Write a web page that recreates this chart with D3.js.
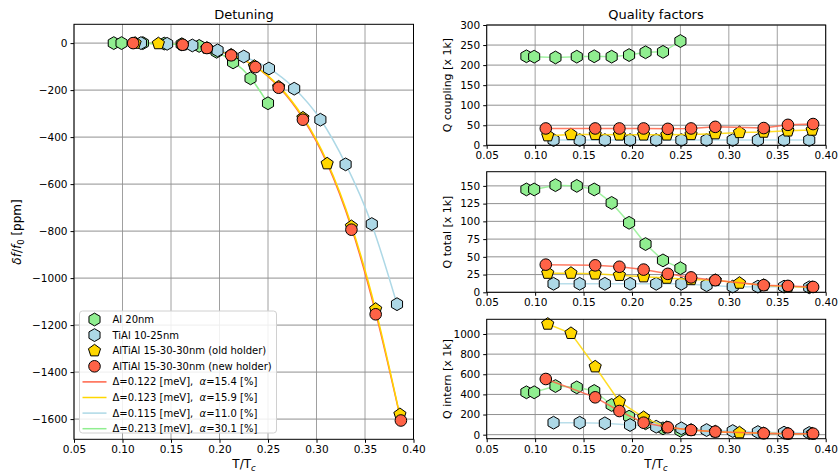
<!DOCTYPE html>
<html>
<head>
<meta charset="utf-8">
<script src="https://cdn.jsdelivr.net/npm/d3@7"></script>
<style>
  body { margin: 0; background: #fff; }
  text { font-family: "DejaVu Sans", sans-serif; fill: #000; }
</style>
</head>
<body>
<div id="chart"></div>
<script>
// temperatures (T/Tc) of each sample
var tAl   = [0.091, 0.099, 0.121, 0.143, 0.161, 0.179, 0.197, 0.214, 0.232, 0.250];
var tTiAl = [0.119, 0.146, 0.172, 0.198, 0.225, 0.251, 0.277, 0.304, 0.330, 0.357, 0.383];
var tOld  = [0.113, 0.137, 0.162, 0.187, 0.212, 0.236, 0.261, 0.286, 0.311, 0.336, 0.361, 0.386];
var tNew  = [0.111, 0.162, 0.187, 0.212, 0.237, 0.261, 0.286, 0.336, 0.361, 0.387];

// detuning [ppm]
var dfAl   = [0, 0, 0, -2, -5, -12, -37, -82, -150, -256];
var dfTiAl = [0, -3, -10, -31, -57, -108, -194, -326, -516, -770, -1111];
var dfOld  = [0, -2, -7, -21, -50, -98, -186, -318, -513, -780, -1132, -1580];
var dfNew  = [0, -7, -21, -52, -102, -190, -326, -794, -1154, -1606];

// fit curves
var fitNewT   = [0.111, 0.137, 0.162, 0.187, 0.212, 0.237, 0.261, 0.286, 0.311, 0.336, 0.361, 0.387];
var fitNew    = [0, -2, -6, -20, -50, -100, -186, -320, -512, -785, -1148, -1606];
var fitOldT   = [0.113, 0.137, 0.162, 0.187, 0.212, 0.236, 0.261, 0.286, 0.311, 0.336, 0.361, 0.386];
var fitOld    = [0, -2, -6, -19, -48, -97, -182, -314, -505, -775, -1135, -1585];
var fitTiAlT  = [0.119, 0.146, 0.172, 0.198, 0.225, 0.251, 0.277, 0.304, 0.330, 0.357, 0.383];
var fitTiAl   = [0, -3, -11, -29, -58, -108, -192, -324, -514, -772, -1111];
var fitAlT    = [0.091, 0.121, 0.143, 0.161, 0.179, 0.197, 0.214, 0.232, 0.250];
var fitAl     = [0, -1, -3, -8, -19, -39, -78, -148, -258];

// quality factors [x 1k]
var qcAl   = [222, 221, 219, 221, 222, 221, 225, 232, 233, 260];
var qcTiAl = [13, 13, 13, 13, 13, 13, 13, 13, 13, 13, 13];
var qcOld  = [24, 27, 27, 26, 26, 26, 27, 29, 32, 33, 36, 38];
var qcNew  = [42, 42, 42, 42, 41, 42, 46, 43, 51, 53];

var qtAl   = [145, 145, 151, 150, 145, 126, 98, 68, 45, 34];
var qtTiAl = [12, 12, 12, 12, 12, 12, 10, 8, 8, 8, 7];
var qtOld  = [27, 27, 26, 24, 22, 20, 18, 17, 13, 10, 8, 7];
var qtNew  = [39, 38, 36, 32, 26, 21, 17, 10, 9, 7.5];

var qiAl   = [421, 421, 483, 470, 434, 295, 179, 113, 63, 40];
var qiTiAl = [119, 119, 113, 96, 79, 63, 46, 36, 26, 20, 17];
var qiOld  = [1099, 1007, 675, 328, 172, 73, 46, 30, 20, 13, 10, 10];
var qiNew  = [553, 371, 235, 119, 73, 46, 30, 13, 10, 10];

var sampleNames = ["Al 20nm", "TiAl 10-25nm", "AlTiAl 15-30-30nm (old holder)", "AlTiAl 15-30-30nm (new holder)"];
var fitNames = ["\u0394=0.122 [meV],  ", "\u0394=0.123 [meV],  ", "\u0394=0.115 [meV],  ", "\u0394=0.213 [meV],  "];
var fitAlpha = ["15.4 [%]", "15.9 [%]", "11.0 [%]", "30.1 [%]"];
var xTicks = [0.05, 0.10, 0.15, 0.20, 0.25, 0.30, 0.35, 0.40];

var cGreen = "#90ee90", cBlue = "#add8e6", cGold = "#ffd700", cRed = "#ff6347";
var R = 5.8;

function poly(n, r) {
  var pts = d3.range(n).map(function(i) {
    var a = i * 2 * Math.PI / n;
    return [r * Math.sin(a), -r * Math.cos(a)];
  });
  return "M" + pts.join("L") + "Z";
}
var shapes = {
  hex: poly(6, R + 0.6),
  pent: poly(5, R + 0.6),
  circ: d3.symbol().type(d3.symbolCircle).size(Math.PI * R * R)()
};

var svg = d3.select("#chart").append("svg")
    .attr("width", 839)
    .attr("height", 472);

function makePanel(box, yDomain, yTicks) {
  var x = d3.scaleLinear().domain([0.05, 0.40]).range([box.l, box.r]);
  var y = d3.scaleLinear().domain(yDomain).range([box.b, box.t]);
  var g = svg.append("g");

  g.append("g").selectAll("line").data(xTicks).enter().append("line")
      .attr("x1", function(d) { return x(d); }).attr("x2", function(d) { return x(d); })
      .attr("y1", box.t).attr("y2", box.b)
      .attr("stroke", "#a0a0a0").attr("stroke-width", 1);
  g.append("g").selectAll("line").data(yTicks).enter().append("line")
      .attr("x1", box.l).attr("x2", box.r)
      .attr("y1", function(d) { return y(d); }).attr("y2", function(d) { return y(d); })
      .attr("stroke", "#909090").attr("stroke-width", 1);

  var xa = g.append("g")
      .attr("transform", "translate(0," + box.b + ")")
      .call(d3.axisBottom(x).tickValues(xTicks).tickFormat(d3.format(".2f")).tickSize(3.5).tickPadding(3));
  var ya = g.append("g")
      .attr("transform", "translate(" + box.l + ",0)")
      .call(d3.axisLeft(y).tickValues(yTicks).tickFormat(d3.format("d")).tickSize(3.5).tickPadding(3));
  [xa, ya].forEach(function(a) {
    a.select(".domain").remove();
    a.selectAll("text").style("font-size", "10.5px").attr("fill", "#000");
    a.selectAll("line").attr("stroke", "#000");
  });

  var data = g.append("g");
  g.append("rect")
      .attr("x", box.l).attr("y", box.t)
      .attr("width", box.r - box.l).attr("height", box.b - box.t)
      .attr("fill", "none").attr("stroke", "#000").attr("stroke-width", 1);
  return { x: x, y: y, g: data };
}

function drawMarkers(p, ts, vs, shape, color) {
  p.g.append("g").selectAll("path").data(ts).enter().append("path")
      .attr("d", shapes[shape])
      .attr("transform", function(d, i) { return "translate(" + p.x(d) + "," + p.y(vs[i]) + ")"; })
      .attr("fill", color).attr("stroke", "#000").attr("stroke-width", 1);
}

function drawLine(p, ts, vs, color, curve, opacity) {
  var line = d3.line()
      .x(function(d) { return p.x(d[0]); })
      .y(function(d) { return p.y(d[1]); })
      .curve(curve);
  p.g.append("path")
      .datum(d3.zip(ts, vs))
      .attr("d", line)
      .attr("fill", "none").attr("stroke", color)
      .attr("stroke-width", 1.5).attr("stroke-opacity", opacity);
}

// ---- left: detuning
var left = makePanel({ l: 74, r: 413.5, t: 24.3, b: 439.3 }, [-1686, 80], d3.range(-1600, 1, 200));
drawLine(left, fitNewT, fitNew, cRed, d3.curveMonotoneX, 1);
drawLine(left, fitOldT, fitOld, cGold, d3.curveMonotoneX, 1);
drawLine(left, fitTiAlT, fitTiAl, cBlue, d3.curveMonotoneX, 1);
drawLine(left, fitAlT, fitAl, cGreen, d3.curveMonotoneX, 1);
drawMarkers(left, tAl, dfAl, "hex", cGreen);
drawMarkers(left, tTiAl, dfTiAl, "hex", cBlue);
drawMarkers(left, tOld, dfOld, "pent", cGold);
drawMarkers(left, tNew, dfNew, "circ", cRed);

// ---- right: quality factors
var rBox = { l: 486.7, r: 825.7 };
var qPanels = [
  { t: 25, b: 145.3, dom: [0, 300], ticks: d3.range(0, 301, 50), vals: [qcAl, qcTiAl, qcOld, qcNew], label: "Q coupling [x 1k]" },
  { t: 171.7, b: 292.3, dom: [0, 170], ticks: d3.range(0, 151, 25), vals: [qtAl, qtTiAl, qtOld, qtNew], label: "Q total [x 1k]" },
  { t: 319.3, b: 438.7, dom: [-40, 1146], ticks: d3.range(0, 1001, 200), vals: [qiAl, qiTiAl, qiOld, qiNew], label: "Q intern [x 1k]" }
];
var sampleT = [tAl, tTiAl, tOld, tNew];
var sampleC = [cGreen, cBlue, cGold, cRed];
var sampleS = ["hex", "hex", "pent", "circ"];

qPanels.forEach(function(q) {
  var p = makePanel({ l: rBox.l, r: rBox.r, t: q.t, b: q.b }, q.dom, q.ticks);
  q.vals.forEach(function(v, k) {
    drawLine(p, sampleT[k], v, sampleC[k], d3.curveLinear, 0.85);
    drawMarkers(p, sampleT[k], v, sampleS[k], sampleC[k]);
  });
  svg.append("text")
      .attr("transform", "translate(447," + ((q.t + q.b) / 2) + ") rotate(-90)")
      .attr("text-anchor", "middle").attr("dy", "0.35em")
      .style("font-size", "11px")
      .text(q.label);
});

// ---- titles and axis labels
svg.append("text").attr("x", 244).attr("y", 19).attr("text-anchor", "middle")
    .style("font-size", "13px").text("Detuning");
svg.append("text").attr("x", 656).attr("y", 19).attr("text-anchor", "middle")
    .style("font-size", "13px").text("Quality factors");

[244, 656].forEach(function(cx) {
  var t = svg.append("text").attr("x", cx).attr("y", 468).attr("text-anchor", "middle")
      .style("font-size", "12px");
  t.append("tspan").text("T/T");
  t.append("tspan").attr("dy", 3).style("font-size", "8.5px").style("font-style", "italic").text("c");
});

var yl = svg.append("text")
    .attr("transform", "translate(21,232) rotate(-90)")
    .attr("text-anchor", "middle")
    .style("font-size", "12px");
yl.append("tspan").style("font-style", "italic").text("\u03b4f");
yl.append("tspan").text("/");
yl.append("tspan").style("font-style", "italic").text("f");
yl.append("tspan").attr("dy", 3).style("font-size", "8.5px").text("0");
yl.append("tspan").attr("dy", -3).text(" [ppm]");

// ---- legend
var lg = svg.append("g").attr("transform", "translate(79.5,311)");
lg.append("rect")
    .attr("width", 197).attr("height", 122).attr("rx", 3)
    .attr("fill", "#fff").attr("fill-opacity", 0.85)
    .attr("stroke", "#d0d0d0").attr("stroke-width", 1);
var rowY = function(i) { return 8.5 + i * 15.6; };
sampleNames.forEach(function(name, i) {
  lg.append("path").attr("d", shapes[sampleS[i]])
      .attr("transform", "translate(15," + rowY(i) + ")")
      .attr("fill", sampleC[i]).attr("stroke", "#000").attr("stroke-width", 1);
  lg.append("text").attr("x", 33).attr("y", rowY(i)).attr("dy", "0.35em")
      .style("font-size", "10px").text(name);
});
var fitC = [cRed, cGold, cBlue, cGreen];
fitNames.forEach(function(name, i) {
  var yy = rowY(i + 4);
  lg.append("line").attr("x1", 3).attr("x2", 27).attr("y1", yy).attr("y2", yy)
      .attr("stroke", fitC[i]).attr("stroke-width", 1.5);
  var t = lg.append("text").attr("x", 33).attr("y", yy).attr("dy", "0.35em")
      .style("font-size", "10px").attr("xml:space", "preserve");
  t.append("tspan").text(name);
  t.append("tspan").style("font-style", "italic").text("\u03b1");
  t.append("tspan").text("=" + fitAlpha[i]);
});
</script>
</body>
</html>
